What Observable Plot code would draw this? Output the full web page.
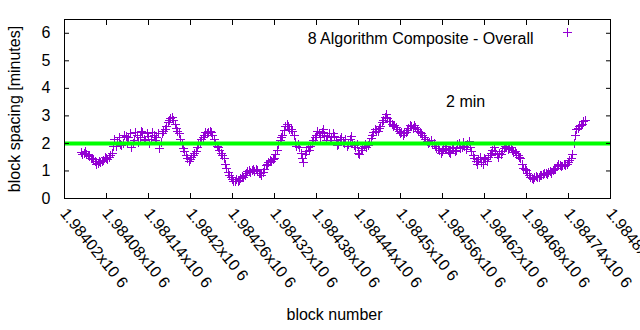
<!DOCTYPE html>
<html><head><meta charset="utf-8">
<script src="https://cdn.jsdelivr.net/npm/d3@7"></script>
<script src="https://cdn.jsdelivr.net/npm/@observablehq/plot@0.6"></script>
<style>html,body{margin:0;padding:0;background:#fff;} svg{display:block}</style>
</head><body><div id="chart"></div>
<script>
const blocksA = [
1984044,1984048,1984052,1984056,1984060,1984064,1984068,1984072,1984076,1984080,
1984084,1984088,1984092,1984096,1984100,1984104,1984108,1984112,1984116,1984120,
1984124,1984128,1984132,1984136,1984140,1984144,1984148,1984152,1984156,1984160,
1984164,1984168,1984172,1984176,1984180,1984184,1984188,1984192,1984196,1984200,
1984204,1984208,1984212,1984216,1984220,1984224,1984228,1984232,1984236,1984240,
1984244,1984248,1984252,1984256,1984260,1984264,1984268,1984272,1984276,1984280,
1984284,1984288,1984292,1984296,1984300,1984304,1984308,1984312,1984316,1984320,
1984324,1984328,1984332,1984336,1984340,1984344,1984348,1984352,1984356,1984360,
1984364,1984368,1984372,1984376,1984380,1984384,1984388,1984392,1984396,1984400,
1984404,1984408,1984412,1984416,1984420,1984424,1984428,1984432,1984436,1984440,
1984444,1984448,1984452,1984456,1984460,1984464,1984468,1984472,1984476,1984480,
1984484,1984488,1984492,1984496,1984500,1984504,1984508,1984512,1984516,1984520,
1984524,1984528,1984532,1984536,1984540,1984544,1984548,1984552,1984556,1984560,
1984564,1984568,1984572,1984576,1984580,1984584,1984588,1984592,1984596,1984600,
1984604,1984608,1984612,1984616,1984620,1984624,1984628,1984632,1984636,1984640,
1984644,1984648,1984652,1984656,1984660,1984664,1984668,1984672,1984676,1984680,
1984684,1984688,1984692,1984696,1984700,1984704,1984708,1984712,1984716,1984720,
1984724,1984728,1984732,1984736,1984740,1984744,1984748,1984752,1984756,1984760,
1984764];
const spacingA = [
1.68,1.62,1.60,1.52,1.45,1.35,1.28,1.30,1.38,1.45,
1.50,1.62,2.15,2.05,1.95,2.00,2.25,2.20,1.85,2.10,
2.30,2.20,2.40,2.10,2.25,2.15,2.30,2.20,1.80,2.35,
2.50,2.75,2.90,2.85,2.55,2.35,2.00,1.70,1.45,1.40,
1.55,1.70,1.95,2.15,2.30,2.35,2.45,2.30,2.00,1.85,
1.65,1.45,1.10,0.85,0.70,0.60,0.62,0.72,0.78,0.90,
1.00,1.02,0.98,1.00,0.90,0.95,1.20,1.30,1.35,1.45,
1.75,2.10,2.30,2.60,2.60,2.50,2.30,1.90,1.85,1.45,
1.60,1.85,1.90,2.10,2.30,2.35,2.40,2.30,2.25,2.10,
2.35,2.10,1.95,2.20,2.00,1.90,2.15,2.00,1.85,1.65,
1.75,1.90,1.85,2.00,2.30,2.50,2.45,2.60,2.85,3.05,
2.80,2.70,2.65,2.50,2.35,2.30,2.40,2.55,2.60,2.65,
2.50,2.40,2.30,2.15,2.00,2.10,2.00,1.80,1.75,1.70,
1.80,1.75,1.65,1.85,1.75,2.00,1.85,1.90,1.95,1.85,
1.55,1.35,1.40,1.30,1.45,1.35,1.55,1.75,1.70,1.50,
1.60,1.80,1.85,1.80,1.75,1.70,1.55,1.45,1.10,1.00,
0.85,0.72,0.75,0.78,0.82,0.88,0.90,0.95,0.92,1.05,
1.15,1.20,1.18,1.20,1.30,1.45,2.00,2.50,2.60,2.70,
2.85];
const blocksB = [
1984046,1984050,1984054,1984058,1984062,1984066,1984070,1984074,1984078,1984082,
1984086,1984090,1984094,1984098,1984102,1984106,1984110,1984114,1984118,1984122,
1984126,1984130,1984134,1984138,1984142,1984146,1984150,1984154,1984158,1984162,
1984166,1984170,1984174,1984178,1984182,1984186,1984190,1984194,1984198,1984202,
1984206,1984210,1984214,1984218,1984222,1984226,1984230,1984234,1984238,1984242,
1984246,1984250,1984254,1984258,1984262,1984266,1984270,1984274,1984278,1984282,
1984286,1984290,1984294,1984298,1984302,1984306,1984310,1984314,1984318,1984322,
1984326,1984330,1984334,1984338,1984342,1984346,1984350,1984354,1984358,1984362,
1984366,1984370,1984374,1984378,1984382,1984386,1984390,1984394,1984398,1984402,
1984406,1984410,1984414,1984418,1984422,1984426,1984430,1984434,1984438,1984442,
1984446,1984450,1984454,1984458,1984462,1984466,1984470,1984474,1984478,1984482,
1984486,1984490,1984494,1984498,1984502,1984506,1984510,1984514,1984518,1984522,
1984526,1984530,1984534,1984538,1984542,1984546,1984550,1984554,1984558,1984562,
1984566,1984570,1984574,1984578,1984582,1984586,1984590,1984594,1984598,1984602,
1984606,1984610,1984614,1984618,1984622,1984626,1984630,1984634,1984638,1984642,
1984646,1984650,1984654,1984658,1984662,1984666,1984670,1984674,1984678,1984682,
1984686,1984690,1984694,1984698,1984702,1984706,1984710,1984714,1984718,1984722,
1984726,1984730,1984734,1984738,1984742,1984746,1984750,1984754,1984758,1984762];
const spacingB = [
1.58,1.70,1.55,1.47,1.40,1.25,1.36,1.33,1.48,1.42,
1.56,1.90,1.88,2.22,1.92,2.30,2.05,2.35,1.98,2.38,
2.05,2.42,2.15,2.35,1.98,2.40,2.12,2.35,2.05,2.45,
2.62,2.82,2.95,2.70,2.42,2.15,1.82,1.55,1.35,1.50,
1.62,1.85,2.05,2.22,2.40,2.40,2.38,2.15,1.90,1.75,
1.55,1.25,0.95,0.78,0.62,0.68,0.66,0.80,0.85,0.98,
0.95,1.05,1.05,0.92,0.85,1.05,1.25,1.38,1.42,1.58,
1.95,2.20,2.48,2.70,2.52,2.42,2.05,1.95,1.65,1.30,
1.72,1.75,2.02,2.20,2.45,2.22,2.50,2.12,2.35,2.20,
2.25,1.92,2.15,2.05,2.15,1.95,2.25,1.92,1.95,1.58,
1.82,1.95,1.92,2.18,2.40,2.42,2.55,2.75,2.95,2.90,
2.78,2.62,2.58,2.42,2.40,2.35,2.48,2.65,2.55,2.58,
2.45,2.35,2.22,2.08,2.05,1.95,1.90,1.82,1.65,1.78,
1.88,1.68,1.80,1.70,1.95,1.80,2.05,1.78,2.08,1.70,
1.45,1.25,1.48,1.22,1.42,1.48,1.62,1.85,1.58,1.62,
1.72,1.88,1.78,1.85,1.68,1.62,1.50,1.25,1.05,0.92,
0.78,0.68,0.80,0.75,0.85,0.92,0.87,0.98,1.00,1.10,
1.22,1.15,1.25,1.25,1.38,1.60,2.30,2.55,2.65,2.78];
const targetValue = [2];
const xTicks = [1984020,1984080,1984140,1984200,1984260,1984320,1984380,1984440,1984500,1984560,1984620,1984680,1984740,1984800];
const xTickLabels = ["1.98402x10 6","1.98408x10 6","1.98414x10 6","1.9842x10 6","1.98426x10 6","1.98432x10 6","1.98438x10 6","1.98444x10 6","1.9845x10 6","1.98456x10 6","1.98462x10 6","1.98468x10 6","1.98474x10 6","1.9848x10 6"];
const yTicks = [0,1,2,3,4,5,6];
const seriesName = ["8 Algorithm Composite - Overall"];
const annotationBlock = [1984593];
const annotationValue = [3.5];
const annotationText = ["2 min"];
const xTitle = ["block number"];
const yTitle = "block spacing [minutes]";

const data = blocksA.map((b, i) => ({block: b, value: spacingA[i]}))
  .concat(blocksB.map((b, i) => ({block: b, value: spacingB[i]})))
  .sort((a, b) => a.block - b.block);
const purple = "#9400d3";
const FS = 16;
const TS = -5;

const chart = Plot.plot({
  width: 640, height: 330,
  marginLeft: 64, marginRight: 30, marginTop: 19, marginBottom: 132,
  style: {fontFamily: "'Liberation Sans', Arial, sans-serif", fontSize: FS + "px", color: "#000", background: "#fff"},
  x: {domain: [1984020, 1984800]},
  y: {domain: [0, 6.5]},
  marks: [
    Plot.dot(data, {x: "block", y: "value", symbol: "plus", r: 3, stroke: purple, strokeWidth: 1, shapeRendering: "crispEdges"}),
    Plot.ruleY(targetValue, {stroke: "#00ff00", strokeWidth: 4}),
    Plot.frame({stroke: "#000"}),
    Plot.axisY(yTicks, {anchor: "left", tickSize: TS, tickPadding: 19, label: yTitle, labelArrow: "none", labelAnchor: "center", labelOffset: 56, fontSize: FS}),
    Plot.axisY(yTicks, {anchor: "right", tickSize: TS, tickFormat: () => "", label: null}),
    Plot.axisX(xTicks, {anchor: "bottom", tickSize: TS, tickFormat: () => "", label: null}),
    Plot.axisX(xTicks, {anchor: "top", tickSize: TS, tickFormat: () => "", label: null}),
    Plot.text(xTicks, {x: d => d, frameAnchor: "bottom", text: (d, i) => xTickLabels[i], rotate: 51, textAnchor: "start", lineAnchor: "middle", dy: 12, dx: -1, fontSize: FS}),
    Plot.text(xTitle, {frameAnchor: "bottom", dy: 121, dx: -3, fontSize: FS}),
    Plot.text(annotationText, {x: (d, i) => annotationBlock[i], y: (d, i) => annotationValue[i], fontSize: FS}),
    Plot.text(seriesName, {frameAnchor: "top-right", textAnchor: "end", dx: -77, dy: 13, fontSize: FS}),
    Plot.dot(seriesName, {frameAnchor: "top-right", dx: -43, dy: 13, symbol: "plus", r: 3, stroke: purple, strokeWidth: 1, shapeRendering: "crispEdges"})
  ]
});
document.getElementById("chart").appendChild(chart);
</script>
</body></html>
